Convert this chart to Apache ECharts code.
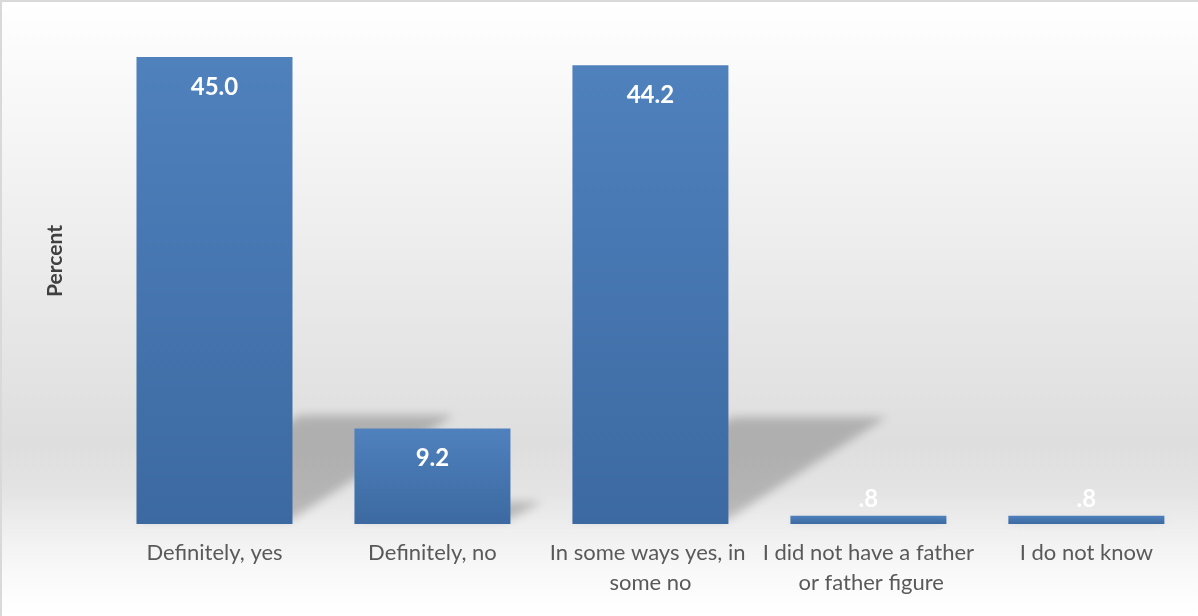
<!DOCTYPE html>
<html>
<head>
<meta charset="utf-8">
<script src="https://cdn.jsdelivr.net/npm/echarts@6/dist/echarts.min.js"></script>
<style>
html,body{margin:0;padding:0;background:#fff;}
#chart{width:1198px;height:616px;}
</style>
</head>
<body>
<div id="chart"></div>
<script>
const categories = ['Definitely, yes', 'Definitely, no', 'In some ways yes, in some no', 'I did not have a father or father figure', 'I do not know'];
const percents = [45.0, 9.2, 44.2, 0.8, 0.8];
const valueLabels = ['45.0', '9.2', '44.2', '.8', '.8'];
const yAxisTitle = 'Percent';

const chart = echarts.init(document.getElementById('chart'));
const FONT = 'Lato';

const barData = percents.map((v, i) => ({
  value: v,
  label: v < 3 ? { position: 'top', distance: 4 } : {}
}));

const OFF = 3000;

const option = {
  animation: false,
  backgroundColor: {
    type: 'linear', x: 0, y: 0, x2: 0, y2: 1,
    colorStops: [
      { offset: 0, color: '#ffffff' },
      { offset: 0.2, color: '#f6f6f6' },
      { offset: 0.5, color: '#e8e8e8' },
      { offset: 0.72, color: '#dedede' },
      { offset: 0.8, color: '#e4e4e4' },
      { offset: 0.86, color: '#efefef' },
      { offset: 0.93, color: '#f9f9f9' },
      { offset: 1, color: '#ffffff' }
    ]
  },
  grid: { left: 105.5, top: 57, right: -1, height: 467, containLabel: false },
  xAxis: {
    type: 'category',
    data: categories,
    axisLine: { show: false },
    axisTick: { show: false },
    axisLabel: {
      interval: 0,
      margin: 14,
      color: '#595959',
      fontFamily: FONT,
      fontSize: 22,
      lineHeight: 30,
      width: 218,
      overflow: 'break'
    }
  },
  yAxis: {
    type: 'value',
    min: 0,
    max: 45,
    show: false
  },
  graphic: [
    {
      type: 'rect',
      shape: { x: 1, y: 1, width: 1200, height: 620 },
      style: { fill: 'none', stroke: '#d9d9d9', lineWidth: 2 },
      z: 100
    },
    {
      type: 'text',
      x: 55, y: 261,
      rotation: Math.PI / 2,
      style: {
        text: yAxisTitle,
        fill: '#404040',
        font: 'bold 21px ' + FONT,
        align: 'center',
        verticalAlign: 'middle'
      }
    }
  ],
  series: [
    {
      type: 'custom',
      z: 1,
      silent: true,
      clip: false,
      renderItem: function (params, api) {
        const base = api.coord([api.value(0), 0]);
        const top = api.coord([api.value(0), api.value(1)]);
        const h = base[1] - top[1];
        const dy = h * 0.233;
        const dx = dy * 1.5;
        const xl = base[0] - 78 - OFF, xr = base[0] + 76 - OFF;
        const yb = base[1] - 4;
        return {
          type: 'polygon',
          shape: { points: [[xl, yb], [xr, yb], [xr + dx, base[1] - dy], [xl + dx, base[1] - dy]] },
          style: {
            fill: '#000',
            shadowBlur: 10,
            shadowColor: 'rgba(0,0,0,0.21)',
            shadowOffsetX: OFF,
            shadowOffsetY: 0
          }
        };
      },
      data: percents.map((v, i) => [i, v])
    },
    {
      type: 'bar',
      z: 2,
      barWidth: 156,
      data: barData,
      itemStyle: {
        color: {
          type: 'linear', x: 0, y: 0, x2: 0, y2: 1,
          colorStops: [
            { offset: 0, color: '#4f81bd' },
            { offset: 1, color: '#3c69a1' }
          ]
        }
      },
      label: {
        show: true,
        position: 'insideTop',
        distance: 18,
        color: '#ffffff',
        fontFamily: FONT,
        fontWeight: 'bold',
        fontSize: 24,
        formatter: p => valueLabels[p.dataIndex]
      }
    }
  ]
};
chart.setOption(option);
</script>
</body>
</html>
